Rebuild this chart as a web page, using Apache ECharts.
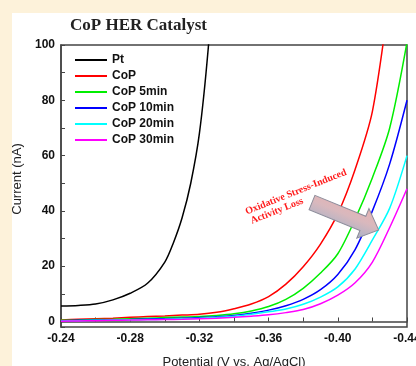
<!DOCTYPE html>
<html>
<head>
<meta charset="utf-8">
<script src="https://cdn.jsdelivr.net/npm/echarts@6/dist/echarts.min.js"></script>
<style>
  html, body { margin: 0; padding: 0; }
  #main { width: 416px; height: 366px; }
</style>
</head>
<body>
<div id="main"></div>
<script>
// potential grid (V vs Ag/AgCl) for the CoP samples
const potential = [-0.24, -0.25, -0.26, -0.27, -0.28, -0.29, -0.30, -0.31, -0.32, -0.33, -0.34,
  -0.35, -0.36, -0.37, -0.38, -0.39, -0.40, -0.41, -0.42, -0.43, -0.44];
// Pt needs its own finer grid, it shoots up early
const ptPotential = [-0.24, -0.25, -0.26, -0.27, -0.28, -0.29, -0.30, -0.305, -0.31, -0.315, -0.32, -0.325, -0.33];
const pt = [5.6, 5.8, 6.3, 7.8, 10.2, 13.8, 21.5, 28.5, 37.5, 50, 68, 98, 140];

const cop = [0.5, 0.8, 1.0, 1.2, 1.5, 1.8, 2.0, 2.3, 2.6, 3.3, 4.6, 6.3, 9.0, 13.5, 19.8, 28, 39, 55, 76, 118, 165];
const cop5 = [0.4, 0.5, 0.7, 0.8, 1.0, 1.2, 1.4, 1.6, 1.8, 2.2, 2.8, 3.8, 5.4, 8.0, 12.0, 17.5, 24.5, 37, 52, 70, 101];
const cop10 = [0.3, 0.4, 0.5, 0.6, 0.7, 0.9, 1.0, 1.2, 1.4, 1.7, 2.2, 3.0, 4.1, 5.7, 8.0, 11.5, 17, 26, 40, 57, 80];
const cop20 = [0.2, 0.3, 0.4, 0.5, 0.6, 0.7, 0.8, 1.0, 1.2, 1.5, 1.9, 2.6, 3.5, 4.5, 6.2, 8.8, 12.5, 19, 29.5, 41, 60];
const cop30 = [0.1, 0.2, 0.3, 0.4, 0.5, 0.6, 0.7, 0.8, 1.0, 1.2, 1.5, 1.9, 2.4, 3.2, 4.3, 6.4, 9.5, 14, 21.5, 34, 48];

const names = ['Pt', 'CoP', 'CoP 5min', 'CoP 10min', 'CoP 20min', 'CoP 30min'];
const colors = ['#000000', '#ff0000', '#00ee00', '#0000ff', '#00ffff', '#ff00ff'];

const yTicks = [0, 20, 40, 60, 80, 100];

function pairs(xs, ys) {
  return xs.map((x, i) => [x, ys[i]]);
}

const curves = [pairs(ptPotential, pt), pairs(potential, cop), pairs(potential, cop5),
  pairs(potential, cop10), pairs(potential, cop20), pairs(potential, cop30)];

const sans = "'Liberation Sans', Arial, sans-serif";
const serif = "'Liberation Serif', 'Times New Roman', serif";

let chart = echarts.init(document.getElementById('main'));

chart.setOption({
  backgroundColor: '#fdf2da',
  animation: false,
  title: {
    text: 'CoP HER Catalyst',
    left: 65,
    top: 12,
    textStyle: { fontFamily: serif, fontSize: 17, fontWeight: 'bold', color: '#222' }
  },
  graphic: [
    // white panel over the cream page
    { type: 'rect', z: -10, shape: { x: 12, y: 13, width: 410, height: 360 }, style: { fill: '#ffffff' } },
    // the arrow
    {
      type: 'polygon',
      x: 312, y: 202.5,
      rotation: -0.39,
      z: 100,
      shape: { points: [[0, -7.7], [55, -7.7], [55, -16], [72, 0], [55, 16], [55, 7.7], [0, 7.7]] },
      style: {
        fill: new echarts.graphic.LinearGradient(0, 0, 0, 1, [
          { offset: 0, color: '#e6b3b3' },
          { offset: 0.45, color: '#d9b8bd' },
          { offset: 1, color: '#a8b2c8' }
        ]),
        stroke: '#8b8b99',
        lineWidth: 1
      }
    },
    {
      type: 'text', x: 296, y: 192, rotation: 0.38, z: 100,
      style: { text: 'Oxidative Stress-Induced', fill: '#ff1a1a', font: 'bold 10px ' + serif, textAlign: 'center', textVerticalAlign: 'middle' }
    },
    {
      type: 'text', x: 277, y: 211, rotation: 0.38, z: 100,
      style: { text: 'Activity Loss', fill: '#ff1a1a', font: 'bold 10px ' + serif, textAlign: 'center', textVerticalAlign: 'middle' }
    }
  ],
  legend: {
    data: names,
    orient: 'vertical',
    icon: 'rect',
    left: 70,
    top: 48,
    itemWidth: 32,
    itemHeight: 2,
    itemGap: 2,
    textStyle: { fontFamily: sans, fontSize: 12, fontWeight: 'bold', color: '#111', lineHeight: 14 }
  },
  grid: {
    left: 61, right: 9, top: 45, bottom: 39,
    outerBoundsMode: 'none',
    show: true, borderColor: '#444', borderWidth: 1.5
  },
  xAxis: {
    type: 'value',
    inverse: true,
    min: -0.44,
    max: -0.24,
    interval: 0.04,
    name: 'Potential (V vs. Ag/AgCl)',
    nameLocation: 'middle',
    nameGap: 29,
    nameTextStyle: { fontFamily: sans, fontSize: 13, color: '#222' },
    axisLine: { lineStyle: { color: '#444', width: 1.5 } },
    axisTick: { inside: true, length: 4, lineStyle: { color: '#444' } },
    minorTick: { show: true, splitNumber: 2, length: 4, lineStyle: { color: '#444' } },
    axisLabel: {
      margin: 6,
      fontFamily: sans, fontSize: 12, fontWeight: 'bold', color: '#111',
      formatter: v => v.toFixed(2)
    },
    splitLine: { show: false }
  },
  yAxis: {
    type: 'value',
    min: -2,
    max: 100,
    name: 'Current (nA)',
    nameLocation: 'middle',
    nameGap: 24,
    nameTextStyle: { fontFamily: sans, fontSize: 13, color: '#222', padding: [0, 0, 0, 14] },
    axisLine: { show: true, lineStyle: { color: '#444', width: 1.5 } },
    axisTick: { inside: true, length: 4, lineStyle: { color: '#444' } },
    minorTick: { show: true, splitNumber: 2, length: 4, lineStyle: { color: '#444' } },
    axisLabel: {
      margin: 6,
      fontFamily: sans, fontSize: 12, fontWeight: 'bold', color: '#111',
      formatter: v => (yTicks.indexOf(v) >= 0 ? String(v) : '')
    },
    splitLine: { show: false }
  },
  series: names.map((n, i) => ({
    name: n,
    type: 'line',
    data: curves[i],
    symbol: 'none',
    smooth: 0.3,
    color: colors[i],
    lineStyle: { width: 1.5, color: colors[i] }
  }))
});
</script>
</body>
</html>
